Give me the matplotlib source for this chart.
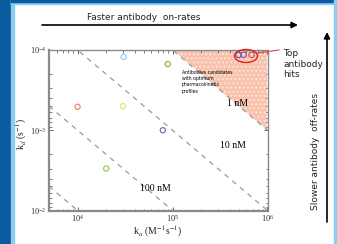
import numpy as np
import matplotlib
matplotlib.use("Agg")
import matplotlib.pyplot as plt
from matplotlib.patches import Rectangle, Ellipse, Polygon, FancyArrowPatch

# data: association rate ka (1/(M s)), dissociation rate kd (1/s)
ka_vals = [3.05e4, 8.9e4, 1.0e4, 3.0e4, 7.9e4, 2.0e4]
kd_vals = [1.22e-4, 1.5e-4, 5.1e-4, 5.0e-4, 1.0e-3, 3.0e-3]
pt_colors = ["#80d0ee", "#a0a040", "#f07860", "#e8e060", "#6a62b8", "#88c848"]

# top hits
hit_ka = [4.95e5, 5.6e5, 6.8e5]
hit_kd = [1.15e-4, 1.15e-4, 1.15e-4]
hit_colors = ["#5850a8", "#9050a8", "#b06060"]

# iso-affinity lines (KD in M)
kd_lines = [1e-9, 1e-8, 1e-7, 1e-6]
kd_line_labels = ["1 nM", "10 nM", "100 nM", ""]

W, H = 337, 244
plt.rcParams["mathtext.fontset"] = "stix"
plt.rcParams["hatch.linewidth"] = 0.8
fig = plt.figure(figsize=(W / 100, H / 100), dpi=100)
fig.patch.set_facecolor("white")

def fx(px):
    return px / W

def fy(py):
    return 1 - py / H

# slide frame
dark_blue = "#0b5c9e"
light_blue = "#8fcdf0"
fig.patches.append(Rectangle((0, 0), fx(11), 1, transform=fig.transFigure,
                             color=dark_blue, zorder=0))
fig.patches.append(Rectangle((fx(11), 0), fx(3), 1, transform=fig.transFigure,
                             color=light_blue, zorder=0))
fig.patches.append(Rectangle((fx(11), fy(4)), 1, 4 / H, transform=fig.transFigure,
                             color=light_blue, zorder=0))
fig.patches.append(Rectangle((fx(11), fy(2)), 1, 2 / H, transform=fig.transFigure,
                             color=dark_blue, zorder=0))
fig.patches.append(Rectangle((fx(334), 0), fx(3), 1, transform=fig.transFigure,
                             color=light_blue, zorder=0))

ax = fig.add_axes([fx(49), fy(210.5), fx(267.5 - 49), (210.5 - 50) / H])
ax.set_xscale("log")
ax.set_yscale("log")
xmin, xmax = 5e3, 1e6
ax.set_xlim(xmin, xmax)
ax.set_ylim(1e-2, 1e-4)

# shaded region above 1 nM line
tri = Polygon([(1e5, 1e-4), (1e6, 1e-4), (1e6, 1e-3)], closed=True,
              facecolor="#f8c2ac", edgecolor="#fde8de", hatch="....",
              linewidth=0, zorder=1)
ax.add_patch(tri)

ka_grid = np.logspace(np.log10(xmin), np.log10(xmax), 200)
for kd in kd_lines:
    ax.plot(ka_grid, kd * ka_grid, color="#9a9a9a", linestyle=(0, (4, 4)),
            linewidth=0.9, zorder=2)

ax.scatter(ka_vals, kd_vals, s=14, facecolors="none", edgecolors=pt_colors,
           linewidths=0.8, zorder=3)
ax.scatter(hit_ka, hit_kd, s=16, facecolors="none", edgecolors=hit_colors,
           linewidths=0.8, zorder=3)

ax.text(1.25e5, 1.78e-4, "Antibodies candidates\nwith optimum\npharmacokinetic\nprofiles",
        fontsize=3.3, family="DejaVu Sans", va="top", ha="left", linespacing=1.3, zorder=4)
ax.text(4.8e5, 4.6e-4, kd_line_labels[0], fontsize=7, family="Liberation Serif",
        ha="center", va="center")
ax.text(4.3e5, 1.55e-3, kd_line_labels[1], fontsize=7, family="Liberation Serif",
        ha="center", va="center")
ax.text(6.6e4, 5.3e-3, kd_line_labels[2], fontsize=7, family="Liberation Serif",
        ha="center", va="center")

for side in ["left", "bottom", "top", "right"]:
    ax.spines[side].set_color("#8a8a8a")
    ax.spines[side].set_linewidth(1.0)
ax.spines["left"].set_linewidth(1.6)
ax.spines["bottom"].set_linewidth(1.6)

ax.set_xticks([1e4, 1e5, 1e6])
ax.set_yticks([1e-4, 1e-3, 1e-2])
ax.tick_params(which="both", direction="in", top=True, right=True,
               labelsize=6, colors="#666666", labelcolor="#333333", pad=2)
ax.tick_params(which="major", length=3, width=0.7)
ax.tick_params(which="minor", length=1.8, width=0.6)
for lab in ax.get_xticklabels() + ax.get_yticklabels():
    lab.set_family("Liberation Serif")

fig.text(fx(21), fy(134), r"k$_d$ (s$^{-1}$)", rotation=90, fontsize=7,
         family="Liberation Serif", ha="center", va="center", color="#222222")
fig.text(fx(158), fy(231), r"k$_a$ (M$^{-1}$s$^{-1}$)", fontsize=7,
         family="Liberation Serif", ha="center", va="center", color="#222222")

# ellipse around top hits
ell = Ellipse((fx(246), fy(56)), 23 / W, 13 / H, transform=fig.transFigure,
              fill=False, edgecolor="#e02020", linewidth=1.0)
fig.patches.append(ell)
fig.add_artist(plt.Line2D([fx(258), fx(279)], [fy(53), fy(50)],
                          transform=fig.transFigure, color="#e84040", linewidth=0.8))
fig.text(fx(283), fy(64), "Top\nantibody\nhits", fontsize=6.5, family="DejaVu Sans",
         ha="left", va="center", linespacing=1.15, color="#222222")

# arrows
arrow_kw = dict(arrowstyle="-|>,head_length=0.6,head_width=0.3", mutation_scale=6,
                color="black", lw=1.2, shrinkA=0, shrinkB=0)
fig.add_artist(FancyArrowPatch((fx(42), fy(25)), (fx(298), fy(25)),
                               transform=fig.transFigure, **arrow_kw))
fig.text(fx(144), fy(17), "Faster antibody  on-rates", fontsize=6.5,
         family="DejaVu Sans", ha="center", va="center", color="#222222")
fig.add_artist(FancyArrowPatch((fx(327), fy(222)), (fx(327), fy(32)),
                               transform=fig.transFigure, **arrow_kw))
fig.text(fx(315), fy(151), "Slower antibody  off-rates", fontsize=6.5, rotation=90,
         family="DejaVu Sans", ha="center", va="center", color="#222222")

fig.savefig("out.png", dpi=100)
